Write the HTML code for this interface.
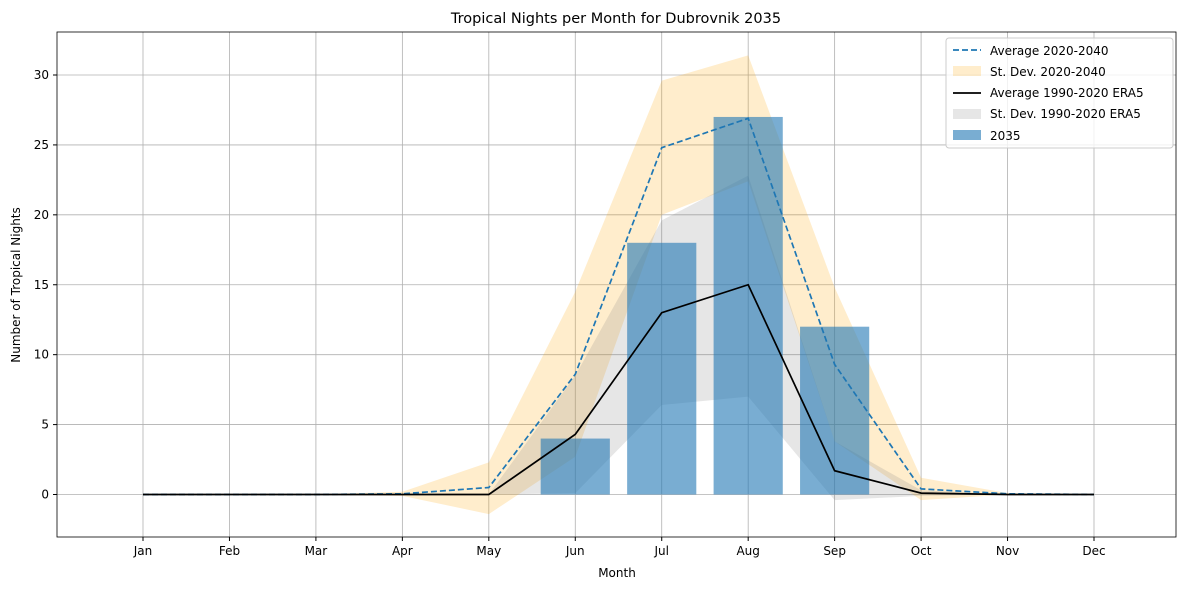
<!DOCTYPE html>
<html><head><meta charset="utf-8"><style>
body{margin:0;background:#fff;font-family:"Liberation Sans","DejaVu Sans",sans-serif}
text{font-family:"DejaVu Sans","Liberation Sans",sans-serif}
</style></head><body>
<svg id="chart" width="1189" height="590" xmlns="http://www.w3.org/2000/svg"></svg>
<script>
const months=["Jan","Feb","Mar","Apr","May","Jun","Jul","Aug","Sep","Oct","Nov","Dec"];
const avgFuture=[0,0,0,0.05,0.5,8.6,24.8,26.9,9.3,0.4,0.05,0];
const futUpper=[0,0,0,0.2,2.3,14.5,29.6,31.4,14.8,1.2,0.1,0];
const futLower=[0,0,0,-0.1,-1.4,2.7,20,22.4,3.8,-0.4,0,0];
const avgEra=[0,0,0,0,0,4.3,13,15,1.7,0.1,0,0];
const eraUpper=[0,0,0,0,0,8.5,19.6,22.8,3.8,0.3,0,0];
const eraLower=[0,0,0,0,0,0.1,6.4,7,-0.4,-0.1,0,0];
const bars2035=[0,0,0,0,0,4,18,27,12,0,0,0];
const yTicks=[0,5,10,15,20,25,30];
const svg=document.getElementById('chart');
const NS="http://www.w3.org/2000/svg";
const L=57,R=1176,T=32,B=537;
const x=i=>143+i*(1094-143)/11;
const y=v=>494.5-v*(494.5-75)/30;
function mk(tag,attrs,parent){const e=document.createElementNS(NS,tag);for(const k in attrs)e.setAttribute(k,attrs[k]);(parent||svg).appendChild(e);return e;}
// grid
months.forEach((m,i)=>{const g=mk('line',{x1:x(i),x2:x(i),y1:T,y2:B,stroke:'#b0b0b0','stroke-width':0.8});


mk('line',{x1:x(i),x2:x(i),y1:B,y2:B+4,stroke:'#000'});
const t=mk('text',{x:x(i),y:B+18,'text-anchor':'middle','font-size':12});t.textContent=m;

});
yTicks.forEach(v=>{const g=mk('line',{x1:L,x2:R,y1:y(v),y2:y(v),stroke:'#b0b0b0','stroke-width':0.8});


mk('line',{x1:L-4,x2:L,y1:y(v),y2:y(v),stroke:'#000'});
const t=mk('text',{x:L-8,y:y(v)+4,'text-anchor':'end','font-size':12});t.textContent=v;

});
function band(up,lo,fill,op,name){let d='M'+up.map((v,i)=>x(i)+','+y(v)).join('L');d+='L'+lo.map((v,i)=>x(i)+','+y(v)).reverse().join('L')+'Z';
const p=mk('path',{d,fill,'fill-opacity':op});

}
band(futUpper,futLower,'#ffa500',0.2,'std-band-2020-2040');
band(eraUpper,eraLower,'#808080',0.2,'std-band-era5');
const bw=0.8*(x(1)-x(0));
bars2035.forEach((v,i)=>{if(!v)return;const r=mk('rect',{x:x(i)-bw/2,y:Math.min(y(v),y(0)),width:bw,height:Math.abs(y(0)-y(v)),fill:'#1f77b4','fill-opacity':0.6});

});
const l1=mk('polyline',{points:avgFuture.map((v,i)=>x(i)+','+y(v)).join(' '),fill:'none',stroke:'#1f77b4','stroke-width':1.7,'stroke-dasharray':'6,3'});


const l2=mk('polyline',{points:avgEra.map((v,i)=>x(i)+','+y(v)).join(' '),fill:'none',stroke:'#000','stroke-width':1.7});


mk('rect',{x:L,y:T,width:R-L,height:B-T,fill:'none',stroke:'#000','stroke-width':0.8});
</script>
<svg width="1189" height="590" style="position:absolute;left:0;top:0" xmlns="http://www.w3.org/2000/svg">
<text x="616" y="23" text-anchor="middle" font-size="14.5">Tropical Nights per Month for Dubrovnik 2035</text>
<text x="617" y="577" text-anchor="middle" font-size="12">Month</text>
<text transform="translate(20,285) rotate(-90)" text-anchor="middle" font-size="12">Number of Tropical Nights</text>
<g font-size="12">
<rect x="946" y="38" width="227" height="110" rx="3" fill="#fff" fill-opacity="0.8" stroke="#ccc"/>
<line x1="953" x2="981" y1="50" y2="50" stroke="#1f77b4" stroke-width="1.7" stroke-dasharray="6,3"/>
<text x="990" y="55">Average 2020-2040</text>
<rect x="953" y="66" width="28" height="10" fill="#ffa500" fill-opacity="0.2"/>
<text x="990" y="76">St. Dev. 2020-2040</text>
<line x1="953" x2="981" y1="93" y2="93" stroke="#000" stroke-width="1.7"/>
<text x="990" y="97">Average 1990-2020 ERA5</text>
<rect x="953" y="109" width="28" height="10" fill="#808080" fill-opacity="0.2"/>
<text x="990" y="118">St. Dev. 1990-2020 ERA5</text>
<rect x="953" y="130" width="28" height="10" fill="#1f77b4" fill-opacity="0.6"/>
<text x="990" y="140">2035</text>
</g>
</svg>
</body></html>
